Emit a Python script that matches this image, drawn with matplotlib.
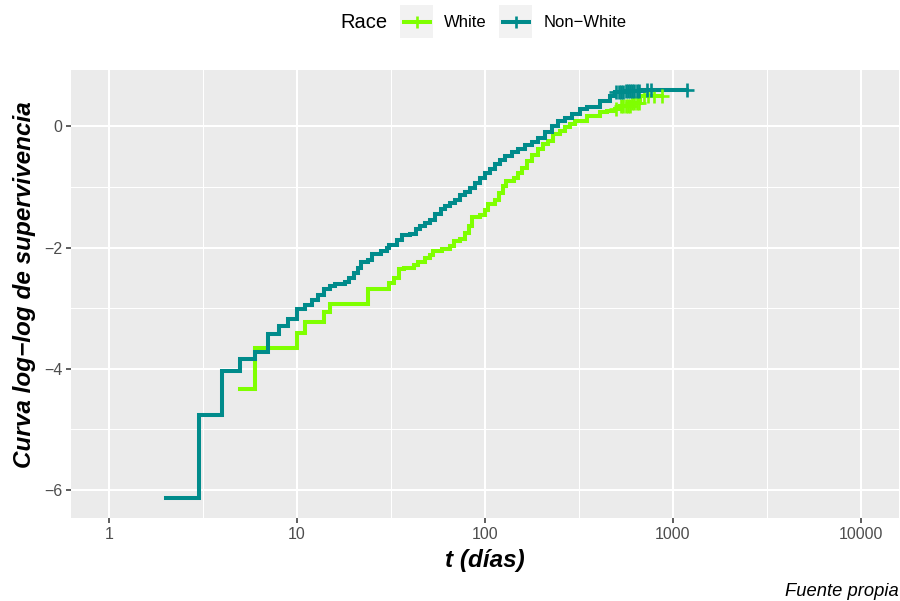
import numpy as np
import matplotlib
matplotlib.use("Agg")
import matplotlib.pyplot as plt
from matplotlib.lines import Line2D
from matplotlib.patches import Rectangle

plt.rcParams['font.family'] = ['Liberation Sans', 'DejaVu Sans']

# ---- data: log(-log S(t)) Kaplan-Meier curves by race ----
groups = ["White", "Non\u2212White"]
group_colors = ["#7FFF00", "#008B8B"]

white_t = [5, 6, 10, 11, 14, 15, 24, 31, 33, 35, 37, 42, 44, 48, 51, 53, 59, 65, 68, 74,
           78, 82, 85, 94, 100, 104, 113, 118, 125, 130, 142, 150, 157, 167, 177, 192,
           204, 217, 231, 250, 267, 283, 301, 347, 409, 444, 491, 520, 600, 667]
white_y = [-4.33, -3.65, -3.41, -3.22, -3.07, -2.93, -2.69, -2.58, -2.50, -2.36, -2.33,
           -2.28, -2.23, -2.17, -2.12, -2.06, -2.02, -1.97, -1.90, -1.86, -1.76, -1.65,
           -1.50, -1.46, -1.38, -1.28, -1.21, -1.10, -0.99, -0.90, -0.85, -0.77, -0.68,
           -0.57, -0.48, -0.38, -0.29, -0.24, -0.13, -0.08, -0.02, 0.03, 0.09, 0.17,
           0.23, 0.25, 0.28, 0.33, 0.38, 0.50]
white_end = 870
white_cens = [495, 530, 545, 560, 575, 590, 605, 620, 640, 660, 700, 735, 790, 870]

nonwhite_t = [2, 3, 4, 5, 6, 7, 8, 9, 10, 11, 12, 13, 14, 15, 16, 18, 19, 20, 21, 22, 24,
              25, 28, 30, 31, 34, 36, 40, 43, 45, 48, 51, 54, 58, 61, 65, 69, 74, 78, 83,
              88, 94, 100, 106, 113, 120, 128, 139, 150, 163, 177, 192, 208, 226, 245,
              267, 289, 320, 347, 409, 462, 491, 556, 667]
nonwhite_y = [-6.13, -4.76, -4.04, -3.84, -3.73, -3.42, -3.29, -3.18, -3.02, -2.94, -2.86,
              -2.79, -2.69, -2.64, -2.60, -2.56, -2.50, -2.42, -2.34, -2.24, -2.20, -2.10,
              -2.06, -2.00, -1.95, -1.87, -1.80, -1.77, -1.70, -1.65, -1.59, -1.54, -1.45,
              -1.36, -1.32, -1.26, -1.21, -1.14, -1.09, -1.01, -0.93, -0.85, -0.77, -0.70,
              -0.63, -0.55, -0.49, -0.43, -0.38, -0.31, -0.26, -0.19, -0.10, 0.00, 0.09,
              0.14, 0.21, 0.29, 0.31, 0.42, 0.50, 0.56, 0.58, 0.60]
nonwhite_end = 1180
nonwhite_cens = [500, 515, 530, 545, 560, 575, 590, 605, 620, 640, 660, 725, 760, 1180]

x_ticks = [1, 10, 100, 1000, 10000]
x_ticklabels = ["1", "10", "100", "1000", "10000"]
y_ticks = [-6, -4, -2, 0]
y_ticklabels = ["\u22126", "\u22124", "\u22122", "0"]

series = [
    (white_t, white_y, white_end, white_cens),
    (nonwhite_t, nonwhite_y, nonwhite_end, nonwhite_cens),
]

# ---- figure ----
W, H = 900, 601
fig = plt.figure(figsize=(W / 100, H / 100), dpi=100)
fig.patch.set_facecolor("white")

def fx(px):
    return px / W

def fy(py):
    return 1 - py / H

ax = fig.add_axes([fx(71.4), fy(518.4), fx(898.6) - fx(71.4), fy(69.5) - fy(518.4)])
ax.set_facecolor("#EBEBEB")
for s in ax.spines.values():
    s.set_visible(False)

LW = 2.9
for (t, y, t_end, cens), col in zip(series, group_colors):
    t = np.asarray(t, float)
    y = np.asarray(y, float)
    tt = np.append(t, t_end)
    yy = np.append(y, y[-1])
    ax.step(tt, yy, where="post", color=col, lw=LW, solid_joinstyle="miter", zorder=3)
    c = np.asarray(cens, float)
    idx = np.searchsorted(t, c, side="right") - 1
    ax.plot(c, y[idx], linestyle="none", marker="+", markersize=9.5,
            markeredgewidth=1.9, color=col, zorder=4)

ax.set_xscale("log")
ax.set_xlim(10 ** -0.2, 10 ** 4.2)
all_y = np.concatenate([white_y, nonwhite_y])
pad = 0.05 * (all_y.max() - all_y.min())
ax.set_ylim(all_y.min() - pad, all_y.max() + pad)

ax.set_xticks(x_ticks)
ax.set_xticklabels(x_ticklabels)
ax.set_xticks([10 ** 0.5, 10 ** 1.5, 10 ** 2.5, 10 ** 3.5], minor=True)
ax.set_yticks(y_ticks)
ax.set_yticklabels(y_ticklabels)
ax.set_yticks([-5, -3, -1], minor=True)

ax.grid(which="major", color="white", lw=1.5)
ax.grid(which="minor", color="white", lw=0.75)
ax.set_axisbelow(True)

ax.tick_params(which="major", length=3.3, width=1.1, color="#333333",
               labelcolor="#4D4D4D", labelsize=11.5, pad=3)
ax.tick_params(which="minor", length=0)

fig.text(fx(485), fy(561), "t (días)", ha="center", va="center",
         fontsize=17.5, fontweight="bold", fontstyle="italic")
fig.text(fx(25), fy(285), "Curva log\u2212log de supervivencia", ha="center", va="center",
         rotation=90, fontsize=17.5, fontweight="bold", fontstyle="italic")
fig.text(fx(899), fy(596), "Fuente propia", ha="right", va="baseline",
         fontsize=13.2, fontstyle="italic")

# ---- legend (top, horizontal) ----
fig.text(fx(340), fy(22.5), "Race", ha="left", va="center", fontsize=14.5)
key_left = [400, 499]
label_left = [444, 544]
for name, col, kl, ll in zip(groups, group_colors, key_left, label_left):
    fig.patches.append(Rectangle((fx(kl), fy(38)), fx(33), fy(5) - fy(38),
                                 transform=fig.transFigure, facecolor="#F2F2F2",
                                 edgecolor="none"))
    fig.lines.append(Line2D([fx(kl + 4), fx(kl + 30)], [fy(21.5), fy(21.5)],
                            transform=fig.transFigure, color=col, lw=LW))
    fig.lines.append(Line2D([fx(kl + 16.5)], [fy(21.5)], transform=fig.transFigure,
                            color=col, marker="+", markersize=8, markeredgewidth=1.9,
                            linestyle="none"))
    fig.text(fx(ll), fy(22.5), name, ha="left", va="center", fontsize=12)

fig.savefig("out.png", dpi=100)
